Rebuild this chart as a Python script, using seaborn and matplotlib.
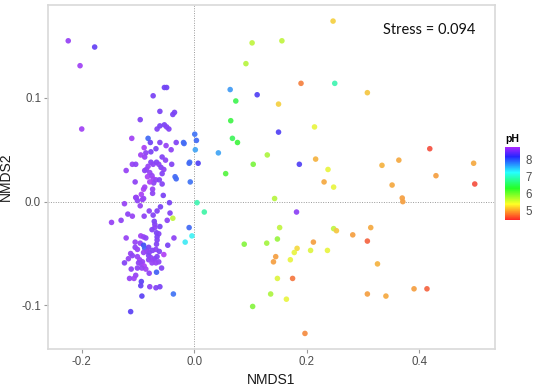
import numpy as np
import pandas as pd
import seaborn as sns
import matplotlib
matplotlib.use("Agg")
import matplotlib.pyplot as plt
from matplotlib.colors import ListedColormap, Normalize, hsv_to_rgb
from matplotlib.cm import ScalarMappable

# ---- data ----
nmds1 = [
    # left (alkaline) cluster
    -0.224, -0.177, -0.203, -0.200, -0.053, -0.049, -0.073, -0.061, -0.038, -0.035,
    -0.096, -0.066, -0.061, -0.053, -0.049, -0.045, -0.111, -0.082, -0.078, -0.061,
    -0.032, -0.018, -0.089, -0.068, -0.050, -0.041, -0.077, -0.095, -0.086, -0.088,
    -0.057, -0.051, -0.040, -0.110, -0.104, -0.121, -0.077, -0.073, -0.067, -0.063,
    -0.082, -0.085, -0.088, -0.059, -0.054, -0.057, -0.079, -0.083, -0.075, -0.073,
    -0.068, -0.072, -0.079, -0.105, -0.062, -0.057, -0.090, -0.088, -0.094, -0.104,
    -0.090, -0.074, -0.074, -0.055, -0.034, -0.032, -0.007, -0.008,
    -0.103, -0.101, -0.092, -0.096, -0.124, -0.044, -0.080, -0.066, -0.060, -0.118,
    -0.110, -0.089, -0.073, -0.043, -0.130, -0.147, -0.048, -0.071, -0.070, -0.070,
    -0.061, -0.075, -0.067, -0.063, -0.066, -0.066, -0.067, -0.121, -0.095, -0.090,
    -0.086, -0.105, -0.096, -0.036, -0.047, -0.105, -0.101, -0.090, -0.088, -0.081,
    -0.084, -0.090, -0.080, -0.074, -0.068, -0.062, -0.054, -0.113, -0.110, -0.117,
    -0.101, -0.097, -0.092, -0.099, -0.094, -0.081, -0.077, -0.073, -0.081, -0.075,
    -0.070, -0.066, -0.063, -0.068, -0.124, -0.089, -0.086, -0.093, -0.101, -0.058,
    -0.112, -0.067, -0.080, -0.104, -0.107, -0.115, -0.094, -0.095, -0.079, -0.068,
    -0.061, -0.093, -0.113,
    # near the origin
    -0.038, -0.009, -0.004, -0.016, -0.037, -0.019, -0.009,
    # right side, upper
    0.247, 0.103, 0.156, 0.092, 0.190, 0.250, 0.064, 0.112, 0.074, 0.150,
    0.065, 0.214, 0.150, 0.001, 0.004, 0.068, 0.077, 0.002, 0.043, 0.130,
    0.007, 0.105, 0.187, 0.216, 0.056, 0.238, 0.231, 0.248, 0.143,
    0.308, 0.419, 0.364, 0.334, 0.497, 0.430, 0.352, 0.499, 0.370, 0.371,
    # right side, lower
    0.005, 0.018, 0.182, 0.152, 0.248, 0.253, 0.089, 0.129, 0.148, 0.212,
    0.183, 0.178, 0.207, 0.237, 0.145, 0.141, 0.171, 0.148, 0.175, 0.136,
    0.164, 0.104, 0.197,
    0.314, 0.282, 0.308, 0.326, 0.308, 0.341, 0.391, 0.414,
]
nmds2 = [
    0.155, 0.149, 0.131, 0.070, 0.110, 0.110, 0.102, 0.087, 0.084, 0.086,
    0.079, 0.070, 0.073, 0.074, 0.072, 0.070, 0.061, 0.061, 0.057, 0.057,
    0.057, 0.056, 0.052, 0.051, 0.054, 0.050, 0.048, 0.045, 0.047, 0.043,
    0.043, 0.040, 0.036, 0.036, 0.036, 0.030, 0.038, 0.036, 0.038, 0.036,
    0.034, 0.031, 0.030, 0.033, 0.031, 0.027, 0.028, 0.024, 0.025, 0.022,
    0.021, 0.018, 0.019, 0.019, 0.021, 0.017, 0.012, 0.014, 0.007, 0.004,
    0.003, 0.012, 0.008, 0.006, 0.024, 0.022, 0.019, 0.038,
    0.004, 0.001, 0.002, -0.004, -0.002, -0.001, -0.009, -0.009, -0.005, -0.012,
    -0.014, -0.014, -0.013, -0.011, -0.018, -0.020, -0.018, -0.019, -0.022, -0.025,
    -0.024, -0.027, -0.030, -0.031, -0.034, -0.037, -0.041, -0.035, -0.033, -0.034,
    -0.035, -0.039, -0.040, -0.035, -0.042, -0.044, -0.046, -0.042, -0.045, -0.044,
    -0.048, -0.049, -0.049, -0.047, -0.046, -0.048, -0.051, -0.050, -0.052, -0.055,
    -0.053, -0.056, -0.058, -0.059, -0.060, -0.052, -0.054, -0.056, -0.056, -0.059,
    -0.055, -0.053, -0.058, -0.059, -0.059, -0.062, -0.065, -0.064, -0.064, -0.064,
    -0.065, -0.068, -0.069, -0.071, -0.074, -0.074, -0.077, -0.081, -0.082, -0.083,
    -0.082, -0.091, -0.106,
    -0.016, -0.025, -0.033, -0.039, -0.089, 0.057, 0.037,
    0.174, 0.153, 0.155, 0.133, 0.114, 0.114, 0.108, 0.103, 0.097, 0.094,
    0.078, 0.072, 0.067, 0.065, 0.059, 0.061, 0.057, 0.050, 0.047, 0.045,
    0.037, 0.036, 0.036, 0.041, 0.027, 0.031, 0.019, 0.014, 0.003,
    0.105, 0.051, 0.040, 0.035, 0.037, 0.025, 0.016, 0.017, 0.0035, 0.000,
    -0.001, -0.010, -0.010, -0.025, -0.026, -0.028, -0.041, -0.040, -0.036, -0.039,
    -0.045, -0.049, -0.047, -0.047, -0.053, -0.058, -0.056, -0.074, -0.074, -0.089,
    -0.094, -0.101, -0.127,
    -0.025, -0.032, -0.038, -0.060, -0.089, -0.091, -0.084, -0.084,
]
ph = [
    8.60, 8.35, 8.65, 8.65, 8.40, 8.40, 8.45, 8.45, 8.45, 8.45,
    8.50, 8.50, 8.45, 8.45, 8.50, 8.50, 8.65, 7.95, 8.40, 8.50,
    8.50, 7.95, 8.70, 8.45, 8.60, 8.55, 8.45, 8.65, 8.55, 8.60,
    8.50, 8.55, 8.50, 8.60, 8.55, 8.60, 8.50, 8.55, 8.50, 8.55,
    8.60, 8.60, 8.55, 8.50, 8.55, 8.50, 8.60, 8.70, 8.60, 8.65,
    8.60, 8.55, 8.70, 8.55, 8.50, 8.50, 8.70, 8.65, 8.70, 8.55,
    8.60, 8.60, 8.55, 8.45, 7.95, 7.95, 7.90, 7.90,
    8.60, 8.55, 8.60, 8.60, 8.60, 8.45, 8.55, 8.50, 8.45, 8.55,
    8.60, 8.55, 8.50, 8.50, 8.55, 8.60, 8.55, 8.45, 8.50, 8.55,
    8.45, 8.50, 8.45, 8.50, 8.45, 8.50, 8.50, 8.60, 8.65, 8.60,
    8.55, 8.60, 8.60, 8.55, 8.45, 8.55, 8.60, 8.10, 8.00, 8.45,
    8.55, 8.60, 8.55, 8.50, 8.55, 8.50, 8.80, 8.60, 8.55, 8.60,
    8.60, 8.65, 8.60, 8.55, 8.60, 8.50, 8.55, 8.60, 8.55, 8.60,
    8.55, 8.50, 8.55, 8.60, 8.50, 8.70, 8.65, 8.60, 8.55, 8.50,
    8.55, 8.00, 8.55, 8.60, 8.65, 8.60, 8.30, 8.35, 8.55, 8.50,
    8.45, 8.30, 8.30,
    5.65, 7.95, 7.25, 7.30, 7.90, 7.95, 7.95,
    5.20, 5.65, 5.65, 5.70, 4.80, 6.90, 7.70, 8.25, 6.40, 5.20,
    6.35, 5.45, 8.25, 7.90, 7.95, 6.45, 6.30, 7.65, 7.65, 5.75,
    8.25, 6.00, 8.25, 5.05, 6.20, 5.45, 5.00, 5.45, 5.70,
    5.15, 4.55, 5.00, 5.05, 5.00, 4.95, 5.00, 4.55, 4.95, 4.95,
    6.90, 6.85, 8.55, 5.65, 5.65, 5.15, 5.95, 5.80, 5.85, 4.95,
    5.25, 5.45, 5.50, 5.45, 4.95, 4.95, 5.45, 5.50, 4.75, 5.75,
    5.45, 5.95, 4.85,
    5.00, 4.95, 4.65, 5.05, 4.95, 5.00, 4.95, 4.65,
]
stress_label = "Stress = 0.094"
cbar_ticks = [5, 6, 7, 8]

df = pd.DataFrame({"NMDS1": nmds1, "NMDS2": nmds2, "pH": ph})

# rainbow colour scale (red -> purple)
PH_MIN, PH_MAX = 4.46, 8.74


def rainbow(sat, val):
    hues = np.linspace(0.0, 0.77, 256)
    hsv = np.stack([hues, np.full(256, sat), np.full(256, val)], axis=1)
    return ListedColormap(hsv_to_rgb(hsv))


cmap_pts = rainbow(0.72, 0.96)
cmap_bar = rainbow(0.85, 1.0)
norm = Normalize(PH_MIN, PH_MAX)

fig = plt.figure(figsize=(5.54, 3.90), dpi=100)
ax = fig.add_axes([48 / 554, 1 - 349 / 390, (495 - 48) / 554, (349 - 5) / 390])

ax.axvline(0, color="#9a9a9a", lw=0.7, ls=(0, (1, 1.5)), zorder=0)
ax.axhline(0, color="#9a9a9a", lw=0.7, ls=(0, (1, 1.5)), zorder=0)

sns.scatterplot(data=df, x="NMDS1", y="NMDS2", hue="pH", palette=cmap_pts,
                hue_norm=norm, legend=False, s=16, linewidth=0, alpha=0.95, ax=ax)

ax.set_xlim(-0.26, 0.535)
ax.set_ylim(-0.142, 0.1895)
ax.set_xticks([-0.2, 0.0, 0.2, 0.4])
ax.set_yticks([-0.1, 0.0, 0.1])
ax.set_xticklabels(["-0.2", "0.0", "0.2", "0.4"])
ax.set_yticklabels(["-0.1", "0.0", "0.1"])
ax.tick_params(axis="both", colors="#9a9a9a", length=3, width=0.8,
               labelsize=8.3, labelcolor="#4d4d4d", pad=2)
for lab in ax.get_xticklabels() + ax.get_yticklabels():
    lab.set_fontfamily("Liberation Sans")
for sp in ax.spines.values():
    sp.set_color("#d9d9d9")
    sp.set_linewidth(1.2)
ax.set_facecolor("white")
ax.set_xlabel("NMDS1", fontsize=10, family="Liberation Sans", color="#1a1a1a", labelpad=4)
ax.set_ylabel("NMDS2", fontsize=10, family="Liberation Sans", color="#1a1a1a", labelpad=6)

ax.text(0.50, 0.165, stress_label, ha="right", va="center", fontsize=10.5,
        family="Lato", color="#111111")

# colour bar
cax = fig.add_axes([504.7 / 554, 1 - 220 / 390, 15.3 / 554, 73.3 / 390])
sm = ScalarMappable(norm=norm, cmap=cmap_bar)
cb = fig.colorbar(sm, cax=cax, ticks=cbar_ticks)
cb.outline.set_visible(False)
cax.tick_params(length=0, labelsize=8.3, labelcolor="#4d4d4d", pad=4)
for lab in cax.get_yticklabels():
    lab.set_fontfamily("Liberation Sans")
fig.text(512 / 554, 1 - 139 / 390, "pH", ha="center", va="center",
         fontsize=7.5, fontweight="bold", family="Liberation Sans")

fig.savefig("out.png", dpi=100)
